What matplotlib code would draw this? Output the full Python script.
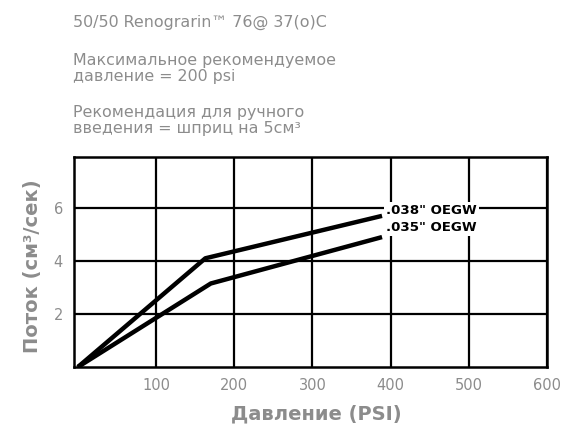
import matplotlib
matplotlib.use("Agg")
import matplotlib.pyplot as plt

plt.rcParams['font.family'] = ['DejaVu Sans']

series_names = ['.038" OEGW', '.035" OEGW']
x_038 = [0, 163, 389]
y_038 = [0, 4.1, 5.7]
x_035 = [0, 170, 389]
y_035 = [0, 3.15, 4.9]
x_ticks = [100, 200, 300, 400, 500, 600]
y_ticks = [2, 4, 6]
note_lines = ['50/50 Renograrin™ 76@ 37(o)C',
              'Максимальное рекомендуемое',
              'давление = 200 psi',
              'Рекомендация для ручного',
              'введения = шприц на 5см³']

gray = '#8c8c8c'
W, H = 565, 425
fig = plt.figure(figsize=(5.65, 4.25), dpi=100)
ax = fig.add_axes([74/W, 58/H, 473/W, 210/H])
ax.set_xlim(-5, 600)
ax.set_ylim(0, 7.92)
ax.set_xticks(x_ticks)
ax.set_yticks(y_ticks)
ax.grid(True, color='black', linewidth=1.6)
ax.set_axisbelow(True)
for s in ax.spines.values():
    s.set_linewidth(1.8)
ax.tick_params(length=0, labelcolor=gray, labelsize=10.5, pad=8)
ax.plot(x_038, y_038, color='black', lw=3.2, solid_capstyle='butt', zorder=3)
ax.plot(x_035, y_035, color='black', lw=3.2, solid_capstyle='butt', zorder=3)
ax.text(x_038[-1] + 5, 5.9, series_names[0], fontsize=9.6, fontweight='bold',
        va='center', ha='left', zorder=4,
        bbox=dict(facecolor='white', edgecolor='none', pad=1.5))
ax.text(x_035[-1] + 5, 5.26, series_names[1], fontsize=9.6, fontweight='bold',
        va='center', ha='left', zorder=4,
        bbox=dict(facecolor='white', edgecolor='none', pad=1.5))
ax.set_xlabel('Давление (PSI)', fontsize=14, fontweight='bold', color=gray)
ax.set_ylabel('Поток (см³/сек)', fontsize=14, fontweight='bold', color=gray)
ax.xaxis.set_label_coords(0.512, -0.18)
ax.yaxis.set_label_coords(-0.068, 0.48)

baselines = [27, 65, 81, 117, 133]
for txt, yb in zip(note_lines, baselines):
    fig.text(73/W, 1 - yb/H, txt, fontsize=11.4, color=gray, va='baseline', ha='left')

fig.savefig('out.png', dpi=100)
